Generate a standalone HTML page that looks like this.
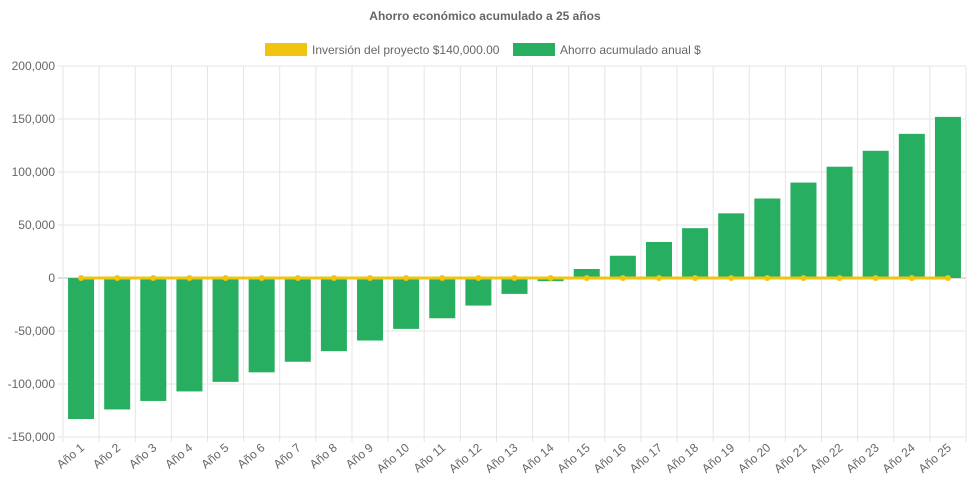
<!DOCTYPE html>
<html><head><meta charset="utf-8">
<style>
body{margin:0;background:#fff;font-family:"Liberation Sans",sans-serif;}
svg text{font-family:"Liberation Sans",sans-serif;}
</style></head>
<body>
<svg id="chart" width="971" height="485" xmlns="http://www.w3.org/2000/svg">
<text x="485" y="20" text-anchor="middle" font-size="12" font-weight="bold" fill="#666">Ahorro económico acumulado a 25 años</text>
<g>
<g><rect x="265" y="43" width="42" height="13" fill="#f1c40f"/><text x="312" y="54" font-size="12" fill="#666">Inversión del proyecto $140,000.00</text></g>
<g><rect x="513" y="43" width="42" height="13" fill="#27ae60"/><text x="560" y="54" font-size="12" fill="#666">Ahorro acumulado anual $</text></g>
</g>
<g id="grid"></g><g id="bars"></g><g id="line"></g><g id="xlabels"></g><g id="ylabels"></g>
</svg>
<script>
const categories=[];for(let i=1;i<=25;i++)categories.push('Año '+i);
const ahorro=[-133000,-124000,-116000,-107000,-98000,-89000,-79000,-69000,-59000,-48000,-38000,-26000,-15000,-3000,8500,21000,34000,47000,61000,75000,90000,105000,120000,136000,152000];
const inversion=[0,0,0,0,0,0,0,0,0,0,0,0,0,0,0,0,0,0,0,0,0,0,0,0,0];
const yTicks=[200000,150000,100000,50000,0,-50000,-100000,-150000];
const L=63,R=966,T=66,B=437,yMax=200000,yMin=-150000;
const NS='http://www.w3.org/2000/svg';
const y=v=>T+(yMax-v)/(yMax-yMin)*(B-T);
const bw=(R-L)/categories.length;
const x=i=>L+bw*(i+0.5);
function mk(t,a,p){const e=document.createElementNS(NS,t);for(const k in a)e.setAttribute(k,a[k]);p.appendChild(e);return e;}
const g=document.getElementById('grid'),gb=document.getElementById('bars'),gl=document.getElementById('line'),gx=document.getElementById('xlabels'),gy=document.getElementById('ylabels');
yTicks.forEach(v=>{
 const ln=mk('line',{x1:L-5,x2:R,y1:y(v),y2:y(v),stroke:v===0?'#bbb':'#e5e5e5','stroke-width':1},g);
 
 
 const t=mk('text',{x:L-8,y:y(v)+4,'text-anchor':'end','font-size':12,fill:'#666'},gy);
 t.textContent=v.toLocaleString('en-US');
 
 
});
for(let i=0;i<=categories.length;i++){
 const ln=mk('line',{x1:L+bw*i,x2:L+bw*i,y1:T,y2:B+5,stroke:'#e5e5e5','stroke-width':1},g);
 
 
}
categories.forEach((c,i)=>{
 const v=ahorro[i];const y0=y(0),yv=y(v);
 const r=mk('rect',{x:x(i)-bw*0.36,y:Math.min(y0,yv),width:bw*0.72,height:Math.abs(yv-y0),fill:'#27ae60'},gb);
 
 
 const t=mk('text',{x:0,y:0,'text-anchor':'end','font-size':12,fill:'#666',transform:`translate(${x(i)+4},${B+12}) rotate(-40)`},gx);
 t.textContent=c;
 
 
});
const pts=inversion.map((v,i)=>x(i)+','+y(v)).join(' ');
const pl=mk('polyline',{points:pts,fill:'none',stroke:'#f1c40f','stroke-width':3},gl);


inversion.forEach((v,i)=>{
 const c=mk('circle',{cx:x(i),cy:y(v),r:3,fill:'#f1c40f'},gl);
 
 
});
</script>
</body></html>
